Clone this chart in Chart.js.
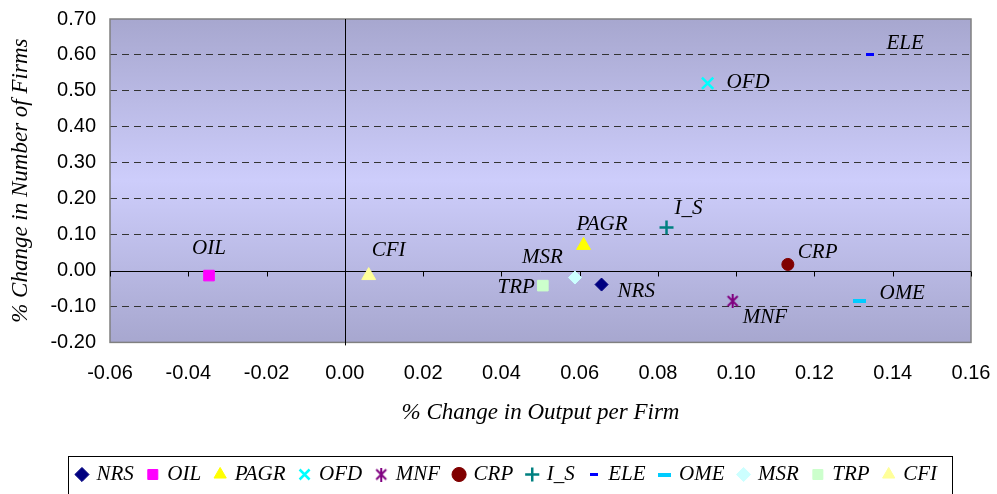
<!DOCTYPE html>
<html>
<head>
<meta charset="utf-8">
<script src="https://cdn.jsdelivr.net/npm/chart.js@4/dist/chart.umd.min.js"></script>
<style>
  body { margin: 0; background: #fff; }
  #wrap { position: relative; width: 997px; height: 494px; }
</style>
</head>
<body>
<div id="wrap"><canvas id="chart"></canvas></div>
<script>
// sectors and their results
var sectors = ['NRS', 'OIL', 'PAGR', 'OFD', 'MNF', 'CRP', 'I_S', 'ELE', 'OME', 'MSR', 'TRP', 'CFI'];
var outputPerFirm = [0.0656, -0.0347, 0.061, 0.0927, 0.0991, 0.1132, 0.0822, 0.1343, 0.1315, 0.0588, 0.0506, 0.0061];
var numberOfFirms = [-0.039, -0.014, 0.07, 0.521, -0.085, 0.017, 0.12, 0.60, -0.085, -0.0195, -0.042, -0.014];
var xTicks = [-0.06, -0.04, -0.02, 0.00, 0.02, 0.04, 0.06, 0.08, 0.10, 0.12, 0.14, 0.16];
var yTicks = [-0.20, -0.10, 0.00, 0.10, 0.20, 0.30, 0.40, 0.50, 0.60, 0.70];

var colors = ['#000080', '#FF00FF', '#FFFF00', '#00FFFF', '#800080', '#800000', '#008080', '#0000FF', '#00CCFF', '#CCFFFF', '#CCFFCC', '#FFFF99'];

// small canvases for the markers chart.js doesn't have
function makeMarker(w, h, draw) {
	var c = document.createElement('canvas');
	c.width = w;
	c.height = h;
	draw(c.getContext('2d'));
	return c;
}
var starMarker = makeMarker(14, 14, function (ctx) {
	ctx.strokeStyle = '#800080';
	ctx.lineWidth = 2;
	ctx.beginPath();
	ctx.moveTo(2, 2); ctx.lineTo(12, 12);
	ctx.moveTo(12, 2); ctx.lineTo(2, 12);
	ctx.moveTo(7, 0); ctx.lineTo(7, 14);
	ctx.stroke();
});
var eleMarker = makeMarker(8, 3, function (ctx) {
	ctx.fillStyle = '#0000FF';
	ctx.fillRect(0, 0, 8, 3);
});
var omeMarker = makeMarker(13, 4, function (ctx) {
	ctx.fillStyle = '#00CCFF';
	ctx.fillRect(0, 0, 13, 4);
});

var styles = ['rectRot', 'rect', 'triangle', 'crossRot', starMarker, 'circle', 'cross', eleMarker, omeMarker, 'rectRot', 'rect', 'triangle'];
var radii = [6.5, 7.5, 8, 8, 7, 6, 7, 4, 6, 6.5, 7.5, 8];

// where each name sits next to its marker
var labelPlace = {
	NRS: [16, 7, 'left'], OIL: [0, -27, 'center'], PAGR: [-7, -21, 'left'], OFD: [19, -1, 'left'],
	MNF: [10, 16, 'left'], CRP: [10, -12, 'left'], I_S: [8, -19, 'left'], ELE: [16, -11, 'left'],
	OME: [20, -8, 'left'], MSR: [-12, -20, 'right'], TRP: [-8, 2, 'right'], CFI: [3, -25, 'left']
};

var datasets = sectors.map(function (name, i) {
	var isLine = (i === 3 || i === 6);
	return {
		label: name,
		data: [{ x: outputPerFirm[i], y: numberOfFirms[i] }],
		pointStyle: styles[i],
		pointRadius: radii[i],
		pointHoverRadius: radii[i],
		backgroundColor: colors[i],
		borderColor: colors[i],
		borderWidth: isLine ? 2.5 : 1
	};
});

var plotDecor = {
	id: 'plotDecor',
	beforeDraw: function (chart) {
		var a = chart.chartArea, ctx = chart.ctx;
		var g = ctx.createLinearGradient(0, a.top, 0, a.bottom);
		g.addColorStop(0, '#A7A7CF');
		g.addColorStop(0.5, '#CDCDFB');
		g.addColorStop(1, '#A7A7CF');
		ctx.save();
		ctx.fillStyle = g;
		ctx.fillRect(a.left, a.top, a.right - a.left, a.bottom - a.top);
		ctx.restore();
	},
	beforeDatasetsDraw: function (chart) {
		var a = chart.chartArea, ctx = chart.ctx;
		var xs = chart.scales.x, ys = chart.scales.y;
		var x0 = Math.round(xs.getPixelForValue(0)) + 0.5;
		var y0 = Math.round(ys.getPixelForValue(0)) + 0.5;
		ctx.save();
		// plot border
		ctx.strokeStyle = '#808080';
		ctx.lineWidth = 1.5;
		ctx.strokeRect(a.left, a.top, a.right - a.left, a.bottom - a.top);
		// zero axes
		ctx.strokeStyle = '#000';
		ctx.lineWidth = 1;
		ctx.beginPath();
		ctx.moveTo(x0, a.top);
		ctx.lineTo(x0, a.bottom + 3);
		ctx.moveTo(a.left, y0);
		ctx.lineTo(a.right, y0);
		xTicks.forEach(function (v) {
			var px = Math.round(xs.getPixelForValue(v)) + 0.5;
			ctx.moveTo(px, y0);
			ctx.lineTo(px, y0 + 5);
		});
		ctx.stroke();
		ctx.restore();
	},
	afterDatasetsDraw: function (chart) {
		var ctx = chart.ctx;
		ctx.save();
		ctx.font = 'italic 21px "Liberation Serif", "Times New Roman", serif';
		ctx.fillStyle = '#000';
		ctx.textBaseline = 'middle';
		sectors.forEach(function (name, i) {
			var px = chart.scales.x.getPixelForValue(outputPerFirm[i]);
			var py = chart.scales.y.getPixelForValue(numberOfFirms[i]);
			var p = labelPlace[name];
			ctx.textAlign = p[2];
			ctx.fillText(name, px + p[0], py + p[1]);
		});
		ctx.restore();
	},
	afterDraw: function (chart) {
		var hb = chart.legend.legendHitBoxes;
		if (!hb || !hb.length) return;
		var first = hb[0], last = hb[hb.length - 1];
		var mid = first.top + first.height / 2;
		var ctx = chart.ctx;
		ctx.save();
		ctx.strokeStyle = '#000';
		ctx.lineWidth = 1;
		ctx.strokeRect(Math.round(first.left - 10) + 0.5, Math.round(mid - 19) + 0.5,
			Math.round(last.left + last.width + 15 - first.left + 10), 60);
		ctx.restore();
	}
};

new Chart(document.getElementById('chart').getContext('2d'), {
	type: 'scatter',
	data: { datasets: datasets },
	options: {
		responsive: true,
		maintainAspectRatio: false,
		animation: false,
		layout: { padding: { left: 18, right: 0, top: 19, bottom: -1 } },
		plugins: {
			tooltip: { enabled: false },
			legend: {
				position: 'bottom',
				labels: {
					usePointStyle: true,
					boxWidth: 8,
					boxHeight: 10,
					padding: 15,
					color: '#000',
					font: { family: '"Liberation Serif", "Times New Roman", serif', style: 'italic', size: 21 }
				}
			}
		},
		scales: {
			x: {
				type: 'linear',
				min: -0.06,
				max: 0.16,
				afterBuildTicks: function (scale) {
					scale.ticks = xTicks.map(function (v) { return { value: v }; });
				},
				afterFit: function (scale) {
					scale.paddingRight = 26;
				},
				ticks: {
					padding: 19,
					color: '#000',
					font: { family: '"Liberation Sans", Arial, sans-serif', size: 20 },
					callback: function (v) { return v.toFixed(2); }
				},
				grid: { display: false, drawTicks: false },
				border: { display: false },
				title: {
					display: true,
					text: '% Change in Output per Firm',
					color: '#000',
					padding: { top: -5, bottom: 22 },
					font: { family: '"Liberation Serif", "Times New Roman", serif', style: 'italic', size: 23 }
				}
			},
			y: {
				min: -0.2,
				max: 0.7,
				afterBuildTicks: function (scale) {
					scale.ticks = yTicks.map(function (v) { return { value: v }; });
				},
				afterFit: function (scale) {
					scale.width = 92;
					scale.paddingTop = 0;
					scale.paddingBottom = 0;
				},
				ticks: {
					padding: 14,
					color: '#000',
					font: { family: '"Liberation Sans", Arial, sans-serif', size: 20 },
					callback: function (v) { return v.toFixed(2); }
				},
				grid: {
					drawTicks: false,
					color: function (c) {
						var v = c.tick ? c.tick.value : 0;
						if (Math.abs(v) < 1e-9 || Math.abs(v + 0.2) < 1e-9 || Math.abs(v - 0.7) < 1e-9) return 'rgba(0,0,0,0)';
						return '#333';
					}
				},
				border: { display: false, dash: [7, 5] },
				title: {
					display: true,
					text: '% Change in Number of Firms',
					color: '#000',
					padding: { top: -11, bottom: 0 },
					font: { family: '"Liberation Serif", "Times New Roman", serif', style: 'italic', size: 23 }
				}
			}
		}
	},
	plugins: [plotDecor]
});
</script>
</body>
</html>
